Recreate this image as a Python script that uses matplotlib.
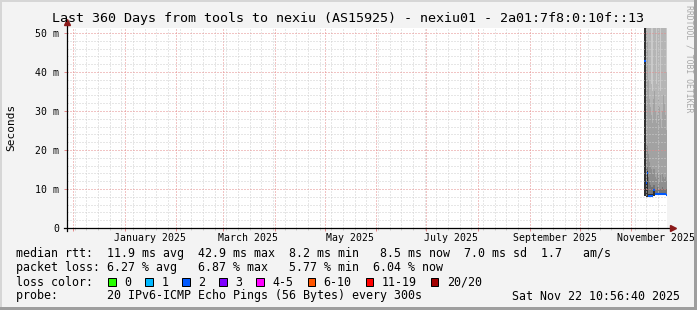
import datetime as dt
import numpy as np
import matplotlib
matplotlib.use('Agg')
import matplotlib.pyplot as plt
import matplotlib.dates as mdates
from matplotlib.patches import Rectangle
from matplotlib.ticker import MultipleLocator, FuncFormatter

plt.rcParams['font.family'] = 'DejaVu Sans Mono'

W, H = 697, 310
BG = '#f3f3f3'

# graph window
graph_end = dt.datetime(2025, 11, 22, 10, 56, 40)
graph_days = 360
step_hours = 14.4          # one pixel column of the 360 day graph

# labelled months (label sits in the middle of the month)
label_months = [dt.datetime(2025, 1, 1), dt.datetime(2025, 3, 1), dt.datetime(2025, 5, 1),
                dt.datetime(2025, 7, 1), dt.datetime(2025, 9, 1), dt.datetime(2025, 11, 1)]
label_texts = ['January 2025', 'March 2025', 'May 2025',
               'July 2025', 'September 2025', 'November 2025']

# median rtt per column (ms), oldest first, last one is "now"
median_ms = [42.9, 42.9, 11.5, 14.2, 8.2, 8.2, 8.2, 8.2, 8.2, 9.7, 9.7, 8.7,
             8.7, 8.7, 8.7, 8.7, 8.7, 8.7, 8.7, 8.7, 8.7, 8.7, 8.5]

# smoke: lower edge and upper edges of the ping bands (ms), inner -> outer
ping_lo = [8.2, 8.2, 8.0, 8.0, 7.9, 7.9, 7.9, 7.9, 7.9, 8.2, 8.3, 8.4,
           8.4, 8.4, 8.4, 8.4, 8.4, 8.4, 8.4, 8.4, 8.4, 8.4, 8.2]
p55 = [60, 60, 12, 14.5, 8.6, 8.6, 8.6, 8.6, 8.6, 10, 10, 9,
       9, 9, 9, 9, 9, 9, 9, 9, 9, 9, 8.8]
p65 = [60, 60, 16, 16, 13, 12, 11, 10.5, 10.5, 11, 11, 10,
       10, 10.5, 10, 10, 10, 10, 10.5, 10, 10, 10, 10]
p75 = [60, 60, 22, 21, 19, 17, 16, 15, 14, 15, 15, 13,
       12.5, 14, 13, 12, 13.5, 12, 14, 13, 12.5, 13, 12]
p85 = [60, 60, 60, 48, 38, 33, 31, 29, 27, 33, 35, 30,
       27, 29, 33, 31, 28, 26, 30, 34, 32, 29, 25]
p95 = [60, 60, 60, 60, 60, 60, 60, 37, 35, 60, 60, 60,
       37, 60, 60, 60, 35, 60, 60, 60, 60, 60, 40]
p100 = [60, 60, 60, 60, 60, 60, 60, 60, 60, 60, 60, 60,
        60, 60, 60, 60, 60, 60, 60, 60, 60, 60, 60]

# legend
rtt_line = 'median rtt:  11.9 ms avg  42.9 ms max  8.2 ms min   8.5 ms now  7.0 ms sd  1.7   am/s'
loss_line = 'packet loss: 6.27 % avg   6.87 % max   5.77 % min  6.04 % now'
loss_labels = ['0', '1', '2', '3', '4-5', '6-10', '11-19', '20/20']
loss_colors = ['#26ff00', '#00b8ff', '#0059ff', '#7e00ff', '#ff00ff', '#ff5500', '#ff0000', '#a10000']
probe_line = 'probe:       20 IPv6-ICMP Echo Pings (56 Bytes) every 300s'
stamp = 'Sat Nov 22 10:56:40 2025'
title = 'Last 360 Days from tools to nexiu (AS15925) - nexiu01 - 2a01:7f8:0:10f::13'


def fx(x):
    return x / W


def fy(y):
    return 1 - y / H


fig = plt.figure(figsize=(W / 100, H / 100), dpi=100, facecolor=BG)
ax = fig.add_axes([fx(67), fy(228), 600 / W, 200 / H])
ax.set_facecolor('white')

n = len(median_ms)
edges = [graph_end - dt.timedelta(hours=step_hours * (n - i)) for i in range(n + 1)]
ex = mdates.date2num(edges)


def ext(a):
    return np.append(np.asarray(a, float), a[-1])


# smoke, outer band first (lightest), inner bands painted on top
bands = [(p100, '#cacaca'), (p95, '#b5b5b5'), (p85, '#a2a2a2'),
         (p75, '#8e8e8e'), (p65, '#747474'), (p55, '#303030')]
for top, col in bands:
    ax.fill_between(ex, ext(ping_lo), ext(top), step='post', color=col, lw=0, zorder=1)

# median: one flat piece per column, coloured by loss
ax.hlines(median_ms, ex[:-1], ex[1:], color=loss_colors[2], lw=1.5, zorder=3)

start = graph_end - dt.timedelta(days=graph_days)
ax.set_xlim(mdates.date2num(start), mdates.date2num(graph_end))
ax.set_ylim(0, 51.28)

# grid
ax.xaxis.set_major_locator(mdates.MonthLocator())
ax.xaxis.set_minor_locator(mdates.WeekdayLocator(byweekday=mdates.MO))
ax.xaxis.set_major_formatter(plt.NullFormatter())
ax.yaxis.set_major_locator(MultipleLocator(10))
ax.yaxis.set_minor_locator(MultipleLocator(2))
ax.yaxis.set_major_formatter(FuncFormatter(lambda v, p: '0' if v == 0 else '%d m' % v))
ax.set_axisbelow(False)
ax.grid(which='minor', color='#cfcfcf', lw=0.72, ls=(0, (1, 2)))
ax.grid(which='major', color='#e58a8a', lw=0.72, ls=(0, (1, 2)))
ax.tick_params(which='major', length=2.5, width=0.72, color='#e58a8a', labelsize=7.1, pad=3)
ax.tick_params(which='minor', length=1.5, width=0.72, color='#cccccc')
ax.tick_params(axis='y', which='minor', length=0)
for s in ax.spines.values():
    s.set_visible(False)

# axis lines with arrows
ax.plot([-3 / 600, 604 / 600], [0, 0], color='black', lw=0.9, transform=ax.transAxes, clip_on=False, zorder=4)
ax.plot([0, 0], [-3 / 200, 204 / 200], color='black', lw=0.9, transform=ax.transAxes, clip_on=False, zorder=4)
ax.plot([606 / 600], [0], marker='>', ms=4, color='#8b1a1a', transform=ax.transAxes, clip_on=False, zorder=5)
ax.plot([0], [206 / 200], marker='^', ms=4, color='#8b1a1a', transform=ax.transAxes, clip_on=False, zorder=5)

for m, t in zip(label_months, label_texts):
    ax.text(mdates.date2num(m + dt.timedelta(days=15)), -9.7 / 200, t, ha='center', va='center',
            fontsize=7.1, transform=ax.get_xaxis_transform(), clip_on=False)

# texts
fig.text(0.5, fy(18.5), title, ha='center', va='center', fontsize=9.6)
fig.text(fx(11), fy(127), 'Seconds', rotation=90, ha='center', va='center', fontsize=8)
fig.text(fx(688.5), fy(59), 'RRDTOOL / TOBI OETIKER', rotation=270, ha='center', va='center',
         fontsize=5.9, color='#a8a8a8')

rows = [254, 268, 282, 296]
fig.text(fx(16), fy(rows[0]), rtt_line, va='center', fontsize=8.4)
fig.text(fx(16), fy(rows[1]), loss_line, va='center', fontsize=8.4)
fig.text(fx(16), fy(rows[2]), 'loss color:', va='center', fontsize=8.4)
fig.text(fx(16), fy(rows[3]), probe_line, va='center', fontsize=8.4)
fig.text(fx(680), fy(rows[3]), stamp, va='center', ha='right', fontsize=8.4)

x = 108.3
cw = 7.04
for lab, col in zip(loss_labels, loss_colors):
    fig.patches.append(Rectangle((fx(x), fy(rows[2] + 3.8)), 7.5 / W, 7.5 / H, transform=fig.transFigure,
                                 facecolor=col, edgecolor='black', lw=0.72))
    fig.text(fx(x + 16), fy(rows[2]), lab, va='center', fontsize=8.4)
    x += 16 + len(lab) * cw + 14

# 3d frame
fig.patches.append(Rectangle((0, 1 - 2 / H), 1, 2 / H, transform=fig.transFigure, color='#d6d6d6', lw=0))
fig.patches.append(Rectangle((0, 0), 2 / W, 1, transform=fig.transFigure, color='#d6d6d6', lw=0))
fig.patches.append(Rectangle((0, 0), 1, 3 / H, transform=fig.transFigure, color='#9e9e9e', lw=0))
fig.patches.append(Rectangle((1 - 3 / W, 0), 3 / W, 1, transform=fig.transFigure, color='#9e9e9e', lw=0))

fig.savefig('out.png', dpi=100, facecolor=BG)
